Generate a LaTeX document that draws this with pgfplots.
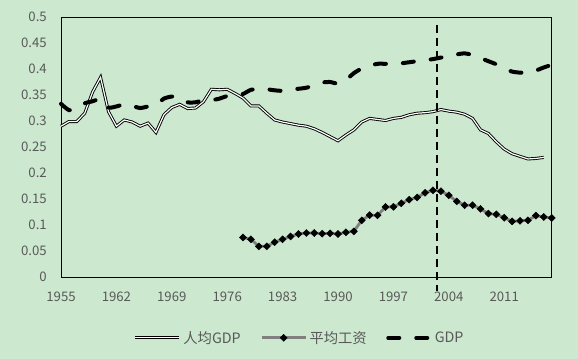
\documentclass[border=0pt]{standalone}
\usepackage{pgfplots}
\pgfplotsset{compat=1.18}
\usepackage{pgfplotstable}
\usepackage{fontspec}
\setmainfont{Noto Sans CJK SC}
\definecolor{bg}{RGB}{204,232,207}
\definecolor{txt}{RGB}{89,89,89}
\definecolor{wage}{RGB}{128,128,128}

\pgfplotsset{
  lineimg/.style={legend image code/.code={\draw[##1] (0bp,0bp) -- (44bp,0bp);}},
  dashimg/.style={legend image code/.code={\draw[##1] (2bp,0bp) -- (44bp,0bp);}},
  markimg/.style={legend image code/.code={\draw[mark repeat=2, mark phase=2, ##1] plot coordinates {(0bp,0bp) (22bp,0bp) (44bp,0bp)};}},
}

\pgfplotstableread{
year val
1955 0.290
1956 0.299
1957 0.299
1958 0.315
1959 0.356
1960 0.384
1961 0.318
1962 0.290
1963 0.302
1964 0.298
1965 0.290
1966 0.296
1967 0.278
1968 0.312
1969 0.326
1970 0.332
1971 0.324
1972 0.325
1973 0.337
1974 0.361
1975 0.360
1976 0.361
1977 0.353
1978 0.344
1979 0.329
1980 0.329
1981 0.315
1982 0.302
1983 0.298
1984 0.295
1985 0.292
1986 0.290
1987 0.285
1988 0.278
1989 0.270
1990 0.262
1991 0.273
1992 0.283
1993 0.298
1994 0.305
1995 0.303
1996 0.301
1997 0.305
1998 0.307
1999 0.312
2000 0.315
2001 0.316
2002 0.318
2003 0.322
2004 0.319
2005 0.317
2006 0.313
2007 0.305
2008 0.283
2009 0.276
2010 0.260
2011 0.246
2012 0.237
2013 0.232
2014 0.227
2015 0.228
2016 0.230
}\pcgdp

\pgfplotstableread{
year val
1978 0.076
1979 0.0725
1980 0.059
1981 0.059
1982 0.067
1983 0.0725
1984 0.078
1985 0.0827
1986 0.0846
1987 0.0846
1988 0.0833
1989 0.084
1990 0.0827
1991 0.086
1992 0.0878
1993 0.109
1994 0.119
1995 0.1186
1996 0.1346
1997 0.135
1998 0.1417
1999 0.1487
2000 0.153
2001 0.162
2002 0.1667
2003 0.165
2004 0.157
2005 0.1455
2006 0.138
2007 0.138
2008 0.131
2009 0.122
2010 0.1205
2011 0.114
2012 0.107
2013 0.108
2014 0.109
2015 0.118
2016 0.1154
2017 0.1135
}\wagetab

\pgfplotstableread{
year val
1955 0.333
1956 0.321
1957 0.324
1958 0.334
1959 0.338
1960 0.342
1961 0.326
1962 0.328
1963 0.332
1964 0.329
1965 0.325
1966 0.328
1967 0.331
1968 0.343
1969 0.347
1970 0.345
1971 0.336
1972 0.336
1973 0.340
1974 0.340
1975 0.343
1976 0.348
1977 0.349
1978 0.352
1979 0.360
1980 0.361
1981 0.361
1982 0.359
1983 0.358
1984 0.361
1985 0.362
1986 0.364
1987 0.369
1988 0.374
1989 0.375
1990 0.372
1991 0.379
1992 0.392
1993 0.401
1994 0.406
1995 0.410
1996 0.410
1997 0.410
1998 0.411
1999 0.413
2000 0.415
2001 0.417
2002 0.419
2003 0.422
2004 0.424
2005 0.428
2006 0.430
2007 0.427
2008 0.421
2009 0.415
2010 0.409
2011 0.401
2012 0.395
2013 0.393
2014 0.393
2015 0.397
2016 0.403
2017 0.408
}\gdptab

\begin{document}
\begin{tikzpicture}
\fill[bg] (-61bp,-82bp) rectangle (517bp,277bp);
\useasboundingbox (-61bp,-82bp) rectangle (517bp,277bp);
\begin{axis}[
  at={(0,0)}, anchor=south west,
  scale only axis, width=490.7bp, height=260bp,
  xmin=1955, xmax=2017, ymin=0, ymax=0.5,
  xtick={1955,1962,1969,1976,1983,1990,1997,2004,2011},
  ytick={0,0.05,0.1,0.15,0.2,0.25,0.3,0.35,0.4,0.45,0.5},
  major tick length=0pt,
  axis line style={black, line width=1bp},
  axis background/.style={fill=bg},
  /pgf/number format/assume math mode=true,
  tick label style={font=\fontsize{13.2bp}{15bp}\selectfont, text=txt},
  x tick label style={/pgf/number format/1000 sep={}, inner ysep=0pt, yshift=-14.5bp},
  y tick label style={/pgf/number format/fixed, /pgf/number format/precision=2, inner xsep=0pt, xshift=-14bp},
  clip=false,
  legend columns=3,
  legend cell align=left,
  legend style={at={(0.487,-0.234)}, anchor=center, draw=none, fill=none,
    font=\fontsize{14.3bp}{16bp}\selectfont, text=txt, inner sep=0pt,
    nodes={inner xsep=2.5bp},
    /tikz/every even column/.append style={column sep=17bp}},
]
\addplot[draw=black, line width=0.9bp, double=white, double distance=1.2bp, lineimg]
  table[x=year, y=val] {\pcgdp};
\addlegendentry{人均GDP}
\addplot[draw=wage, line width=2.8bp, mark=square*, mark size=2.5bp,
  mark options={solid, fill=black, draw=black, line width=0.4bp, rotate=45}, markimg]
  table[x=year, y=val] {\wagetab};
\addlegendentry{平均工资}
\addplot[draw=black, line width=4bp, line cap=round, dash pattern=on 11bp off 17bp, smooth, tension=0.4, dashimg]
  table[x=year, y=val] {\gdptab};
\addlegendentry{GDP}
\addplot[black, line width=2bp, dash pattern=on 8bp off 5bp, forget plot]
  coordinates {(2002.5,0.485) (2002.5,-0.027)};
\end{axis}
\end{tikzpicture}
\end{document}
